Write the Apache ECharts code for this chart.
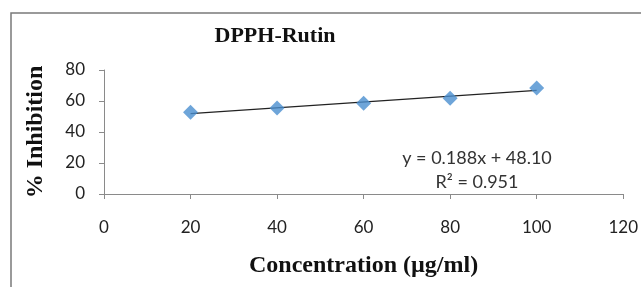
<!DOCTYPE html>
<html lang="en">
<head>
    <meta charset="UTF-8">
    <title>DPPH-Rutin</title>
    <script src="https://cdn.jsdelivr.net/npm/echarts@6/dist/echarts.min.js"></script>
    <style type="text/css">
        html, body { margin: 0; padding: 0; background: #fff; }
    </style>
</head>
<body>
<div id="main" style="width: 641px;height:287px;"></div>
<script>
    // values
    var concentration = [20, 40, 60, 80, 100];
    var inhibition = [52.7, 55.5, 58.5, 61.7, 68.4];
    // trend line end points (from the picture)
    var trendX = [20, 100];
    var trendY = [51.9, 66.9];
    var xTicks = [0, 20, 40, 60, 80, 100, 120];
    var yTicks = [0, 20, 40, 60, 80];

    var myChart = echarts.init(document.getElementById('main'));

    var pts = concentration.map(function (x, i) { return [x, inhibition[i]]; });
    var trend = trendX.map(function (x, i) { return [x, trendY[i]]; });

    var labelFont = {color: '#222', fontSize: 17, fontFamily: 'Lato, "Open Sans", sans-serif'};

    var option = {
        animation: false,
        title: {
            text: 'DPPH-Rutin',
            left: 270,
            top: 20,
            textAlign: 'center',
            textStyle: {fontFamily: '"Liberation Serif", serif', fontWeight: 'bold', fontSize: 22, color: '#111'}
        },
        graphic: [
            {
                type: 'rect',
                shape: {x: 11, y: 13, width: 700, height: 400},
                style: {fill: 'none', stroke: '#7a7a7a', lineWidth: 1.5},
                silent: true
            },
            {
                type: 'text',
                x: 477, y: 158,
                style: {text: 'y = 0.188x + 48.10', fill: '#333', fontSize: 18, fontFamily: 'Lato, "Open Sans", sans-serif',
                    textAlign: 'center', textVerticalAlign: 'middle'}
            },
            {
                type: 'text',
                x: 477, y: 182,
                style: {text: 'R² = 0.951', fill: '#333', fontSize: 18, fontFamily: 'Lato, "Open Sans", sans-serif',
                    textAlign: 'center', textVerticalAlign: 'middle'}
            }
        ],
        grid: {left: 104, top: 70, right: 14, bottom: 93},
        xAxis: {
            type: 'value',
            min: xTicks[0],
            max: xTicks[xTicks.length - 1],
            interval: 20,
            name: 'Concentration (µg/ml)',
            nameLocation: 'middle',
            nameGap: 60,
            nameTextStyle: {fontFamily: '"Liberation Serif", serif', fontWeight: 'bold', fontSize: 24, color: '#111'},
            axisLine: {lineStyle: {color: '#8a8a8a'}},
            axisTick: {show: true, length: 5, lineStyle: {color: '#8a8a8a'}},
            splitLine: {show: false},
            axisLabel: Object.assign({margin: 25}, labelFont)
        },
        yAxis: {
            type: 'value',
            min: yTicks[0],
            max: yTicks[yTicks.length - 1],
            interval: 20,
            name: '% Inhibition',
            nameLocation: 'middle',
            nameGap: 56,
            nameTextStyle: {fontFamily: '"Liberation Serif", serif', fontWeight: 'bold', fontSize: 24, color: '#111'},
            axisLine: {show: true, lineStyle: {color: '#8a8a8a'}},
            axisTick: {show: true, length: 5, lineStyle: {color: '#8a8a8a'}},
            splitLine: {show: false},
            axisLabel: Object.assign({margin: 19}, labelFont)
        },
        series: [
            {
                type: 'line',
                data: trend,
                symbol: 'none',
                lineStyle: {color: '#222', width: 1.2},
                z: 2
            },
            {
                type: 'scatter',
                data: pts,
                symbol: 'diamond',
                symbolSize: 15,
                itemStyle: {color: '#4a8ed0'},
                z: 3
            }
        ]
    };
    myChart.setOption(option);
</script>
</body>
</html>
